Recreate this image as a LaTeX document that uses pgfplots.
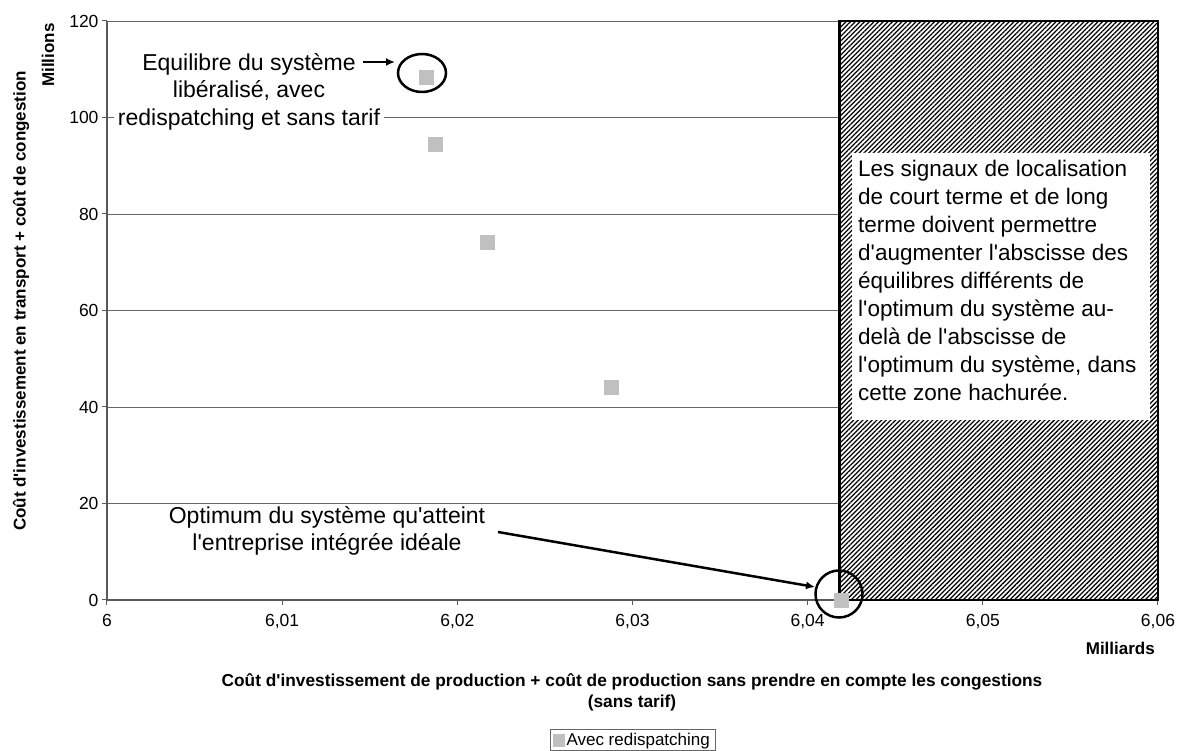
\documentclass[border=0pt]{standalone}
\usepackage{fontspec}
\setmainfont{Liberation Sans}[Ligatures=TeXOff]
\usepackage{pgfplots}
\pgfplotsset{compat=1.18}
\usetikzlibrary{patterns.meta,arrows.meta}
\definecolor{markgray}{RGB}{192,192,192}
\newcommand{\fs}[2]{\fontsize{#1}{#2}\selectfont}
\begin{document}
\begin{tikzpicture}
\useasboundingbox (-107pt,-151pt) rectangle (1070pt,600pt);
\begin{axis}[
  at={(0pt,0pt)}, anchor=south west,
  scale only axis, width=1051pt, height=579pt,
  xmin=6, xmax=6.06, ymin=0, ymax=120,
  xtick={6,6.01,6.02,6.03,6.04,6.05,6.06},
  xticklabels={6,{6,01},{6,02},{6,03},{6,04},{6,05},{6,06}},
  ytick={0,20,40,60,80,100,120},
  axis x line*=bottom, axis y line*=left,
  axis line style={black!65, line width=1.5pt},
  ymajorgrids, major grid style={black!60, line width=0.9pt},
  tick align=outside, major tick length=5pt,
  tick style={black!65, line width=1pt},
  /pgf/number format/assume math mode=true,
  tick label style={font=\fs{17.5}{17.5}},
  xticklabel style={yshift=-6pt},
  clip=false,
  legend style={at={(axis description cs:0.5,-0.2418)}, anchor=center,
    draw=black!60, font=\fs{17}{17}, inner xsep=3pt, inner ysep=1.5pt, row sep=0pt},
  legend image code/.code={\fill[markgray] (0pt,-6pt) rectangle (11pt,6pt);},
]
\fill[white] (axis cs:6.0418,0) rectangle (axis cs:6.06,120);
\draw[pattern={Lines[angle=45,distance=3.3pt,line width=1.25pt]}, draw=black, line width=2.8pt]
  (axis cs:6.0418,0) rectangle (axis cs:6.06,120);
\addplot[only marks, mark=square*, mark size=7pt, color=markgray]
  coordinates {
  (6.01825,108.4)
  (6.01871,94.5)
  (6.02173,74.2)
  (6.0288,44.1)
  (6.0419,0)
  };
\addlegendentry{Avec redispatching}
\end{axis}
% hatched-zone text box
\fill[white] (745pt,180pt) rectangle (1043pt,447pt);
\node[anchor=north west, inner sep=0pt, align=left, font=\fs{22.5}{27.9}] at (751pt,439.5pt)
 {Les signaux de localisation\\de court terme et de long\\terme doivent permettre\\d'augmenter l'abscisse des\\équilibres différents de\\l'optimum du système au-\\delà de l'abscisse de\\l'optimum du système, dans\\cette zone hachurée.};
% top annotation
\node[fill=white, inner xsep=4pt, inner ysep=1pt, align=center, font=\fs{23}{27.5}] at (142pt,508.5pt)
 {Equilibre du système\\libéralisé, avec\\redispatching et sans tarif};
\draw[line width=2.5pt, -{Latex[length=9pt,width=8pt]}] (256pt,538pt) -- (288pt,538pt);
\draw[line width=2.5pt] (315pt,527pt) ellipse [x radius=24pt, y radius=19pt];
% bottom annotation
\node[align=center, font=\fs{23}{27.5}] at (220pt,69pt)
 {Optimum du système qu'atteint\\l'entreprise intégrée idéale};
\draw[line width=2.5pt, -{Latex[length=9pt,width=8pt]}] (391pt,68pt) -- (708pt,13pt);
\draw[line width=2.5pt] (732pt,6pt) circle [radius=23.5pt];
% axis titles
\node[rotate=90, font=\fs{17}{17}\bfseries] at (-86pt,299pt)
 {Coût d'investissement en transport + coût de congestion};
\node[rotate=90, font=\fs{17}{17}\bfseries] at (-59pt,545pt) {Millions};
\node[anchor=east, font=\fs{17}{17}\bfseries, inner sep=0pt] at (1048pt,-48pt) {Milliards};
\node[align=center, font=\fs{17.3}{21}\bfseries] at (525pt,-92pt)
 {Coût d'investissement de production + coût de production sans prendre en compte les congestions\\(sans tarif)};
\end{tikzpicture}
\end{document}
